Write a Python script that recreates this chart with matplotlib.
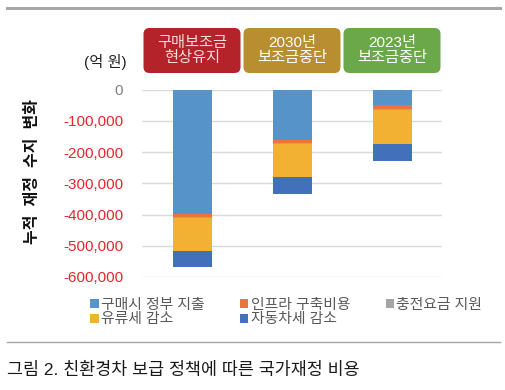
import matplotlib.pyplot as plt
import numpy as np
from matplotlib.patches import FancyBboxPatch
from matplotlib.lines import Line2D
from matplotlib.ticker import FuncFormatter

plt.rcParams['font.family'] = ['Liberation Sans', 'Noto Sans CJK KR', 'DejaVu Sans']

scenarios = ['구매보조금\n현상유지', '2030년\n보조금중단', '2023년\n보조금중단']
scenario_colors = ['#B42329', '#B98E30', '#6AA84A']
scenario_text = ['#F3DCDC', '#FFFFFF', '#FFFFFF']

series = ['구매시 정부 지출', '인프라 구축비용', '충전요금 지원', '유류세 감소', '자동차세 감소']
series_colors = ['#5593C9', '#E8763A', '#A5A5A5', '#F2B133', '#4270BA']

purchase = [-397000, -160000, -51000]
infra = [-11000, -12000, -12000]
charging = [-2000, -2000, -2000]
fuel_tax = [-108000, -107000, -110000]
car_tax = [-50000, -53000, -53000]

yticks = [0, -100000, -200000, -300000, -400000, -500000, -600000]

fig = plt.figure(figsize=(5.05, 3.9), dpi=100)
ax = fig.add_axes([142 / 505, 113 / 390, 300 / 505, 187.5 / 390])

x = np.arange(len(scenarios))
bottom = np.zeros(len(x))
handles = []
for name, vals, color in zip(series, [purchase, infra, charging, fuel_tax, car_tax], series_colors):
    vals = np.array(vals, dtype=float)
    bars = ax.bar(x, vals, 0.39, bottom=bottom, color=color, label=name, zorder=3)
    handles.append(bars)
    bottom += vals

ax.set_xlim(-0.5, 2.5)
ax.set_ylim(-600000, 0)
ax.set_yticks(yticks)
ax.yaxis.set_major_formatter(FuncFormatter(lambda v, p: f'{int(v):,}'))
ax.grid(axis='y', color='#D9D9D9', linewidth=1, zorder=0)
ax.set_xticks([])
for s in ax.spines.values():
    s.set_visible(False)
ax.tick_params(axis='y', length=0, pad=13.5, labelsize=11)
for lbl, v in zip(ax.get_yticklabels(), yticks):
    lbl.set_color('#7F7F7F' if v == 0 else '#E3262E')

fig.text(33 / 505, 1 - 171 / 390, '누적  재정  수지  변화', rotation=90, ha='center', va='center',
         fontsize=11.5, fontweight='bold', color='#111111')
fig.text(105 / 505, 1 - 62 / 390, '(억 원)', ha='center', va='center', fontsize=11, color='#222222')

# scenario header boxes
for i, (lab, col, tc) in enumerate(zip(scenarios, scenario_colors, scenario_text)):
    cx = ax.transData.transform((x[i], 0))[0]
    w, h = 97, 45
    y0 = 390 - 73
    box = FancyBboxPatch((cx - w / 2, y0), w, h, boxstyle='round,pad=0,rounding_size=6',
                         transform=None, facecolor=col, edgecolor='none')
    fig.patches.append(box)
    fig.text(cx / 505, (y0 + h / 2) / 390, lab, ha='center', va='center', fontsize=11,
             color=tc, linespacing=1.1)

# legend (row-major order)
order = [0, 3, 1, 4, 2]
leg = fig.legend([handles[k] for k in order], [series[k] for k in order], ncol=3,
                 loc='center left', bbox_to_anchor=(83 / 505, 1 - 312 / 390), frameon=False,
                 fontsize=10.7, handlelength=0.55, handleheight=0.55, handletextpad=0.15,
                 columnspacing=2.4, labelspacing=0.05, borderpad=0)
for t in leg.get_texts():
    t.set_color('#595959')

# rules and caption
fig.add_artist(Line2D([7 / 505, 500 / 505], [1 - 8 / 390, 1 - 8 / 390], color='#A6A6A6', linewidth=2.2))
fig.add_artist(Line2D([7 / 505, 500 / 505], [1 - 342 / 390, 1 - 342 / 390], color='#A6A6A6', linewidth=1))
fig.text(7 / 505, 1 - 370 / 390, '그림 2. 친환경차 보급 정책에 따른 국가재정 비용', ha='left', va='center',
         fontsize=12.5, color='#1A1A1A')

fig.savefig('out.png', dpi=100)
